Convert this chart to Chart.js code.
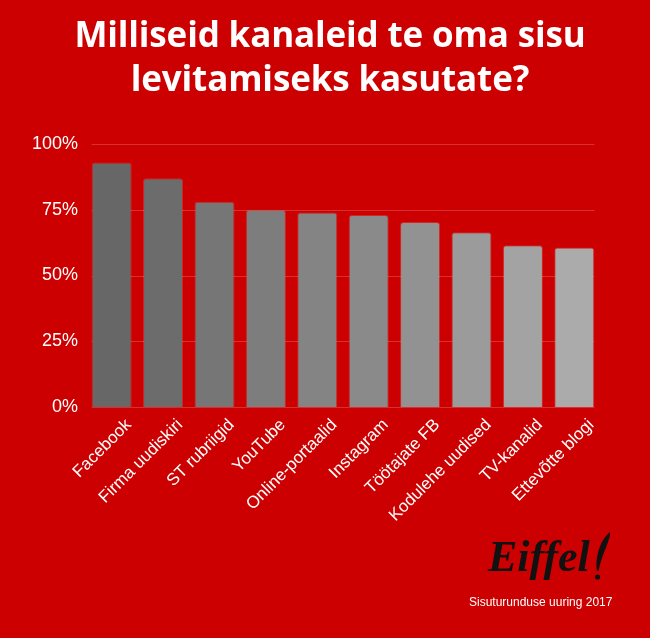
<!DOCTYPE html>
<html>
<head>
<meta charset="utf-8">
<script src="https://cdn.jsdelivr.net/npm/chart.js@4"></script>
<style>
  html, body { margin: 0; padding: 0; background: #cc0000; }
  #wrap { position: relative; width: 650px; height: 638px; overflow: hidden; }
  #title {
    position: absolute; left: 5px; top: 12px; width: 650px; text-align: center;
    color: #fff; font: 700 35px/43.5px "Open Sans", sans-serif; letter-spacing: -0.15px;
  }
  #logo {
    position: absolute; left: 488px; top: 535px; color: #111; line-height: 44px;
    font: italic 700 44px/44px "Liberation Serif", serif;
  }
  #feather { position: absolute; left: 592px; top: 531px; }
  #footer {
    position: absolute; left: 469px; top: 595px; color: #fff;
    font: 12px "Liberation Sans", Arial, sans-serif;
  }
</style>
</head>
<body>
<div id="wrap">
  <canvas id="chart" width="650" height="638"></canvas>
  <div id="title">Milliseid kanaleid te oma sisu<br>levitamiseks kasutate?</div>
  <div id="logo">Eiffel</div>
  <svg id="feather" width="20" height="52" viewBox="0 0 20 52">
    <path d="M18 1 C12 6 8 13 6 22 C4 29 4 35 5 40 L6.5 40 C8 32 11 23 15 14 C17 8 18.5 4 18 1 Z" fill="#111"/>
    <circle cx="5.5" cy="46" r="2.6" fill="#111"/>
  </svg>
  <div id="footer">Sisuturunduse uuring 2017</div>
</div>
<script>
// DATA
const channels = ["Facebook", "Firma uudiskiri", "ST rubriigid", "YouTube", "Online-portaalid",
  "Instagram", "Töötajate FB", "Kodulehe uudised", "TV-kanalid", "Ettevõtte blogi"];
const shares = [93, 87, 78, 75, 74, 73, 70.3, 66.4, 61.5, 60.6];
const yTicks = [0, 25, 50, 75, 100];

const barColors = ["#676767", "#6c6c6c", "#767676", "#7d7d7d", "#848484",
  "#8a8a8a", "#929292", "#9b9b9b", "#a3a3a3", "#ababab"];

// grid lines only across the bars, like the original
const gridLines = {
  id: "gridLines",
  beforeDatasetsDraw(chart) {
    const ctx = chart.ctx;
    const y = chart.scales.y;
    const meta = chart.getDatasetMeta(0);
    const first = meta.data[0], last = meta.data[meta.data.length - 1];
    const x0 = first.x - first.width / 2, x1 = last.x + last.width / 2;
    ctx.save();
    ctx.strokeStyle = "#d83030";
    ctx.lineWidth = 1;
    yTicks.forEach(t => {
      const py = Math.round(y.getPixelForValue(t)) + 0.5;
      ctx.beginPath();
      ctx.moveTo(x0, py);
      ctx.lineTo(x1, py);
      ctx.stroke();
    });
    ctx.restore();
  }
};

new Chart(document.getElementById("chart"), {
  type: "bar",
  data: {
    labels: channels,
    datasets: [{
      data: shares,
      backgroundColor: barColors,
      borderColor: "rgba(255,255,255,0.15)",
      borderWidth: 1,
      borderRadius: { topLeft: 3, topRight: 3 },
      borderSkipped: "bottom",
      categoryPercentage: 1,
      barPercentage: 0.78
    }]
  },
  options: {
    responsive: false,
    animation: false,
    layout: { padding: { top: 144, right: 50, left: 0, bottom: 0 } },
    plugins: { legend: { display: false }, tooltip: { enabled: false } },
    scales: {
      y: {
        min: 0, max: 100,
        afterFit: s => { s.width = 86; },
        afterBuildTicks: s => { s.ticks = yTicks.map(v => ({ value: v })); },
        grid: { display: false },
        border: { display: false },
        ticks: {
          color: "#fff", padding: 0,
          font: { family: "Liberation Sans", size: 18 },
          callback: v => v + "%"
        }
      },
      x: {
        afterFit: s => { s.height = 231; },
        grid: { display: false },
        border: { display: false },
        ticks: {
          color: "#fff", minRotation: 45, maxRotation: 45, padding: 0, labelOffset: 17,
          font: { family: "Liberation Sans", size: 17 }
        }
      }
    }
  },
  plugins: [gridLines]
});
</script>
</body>
</html>
